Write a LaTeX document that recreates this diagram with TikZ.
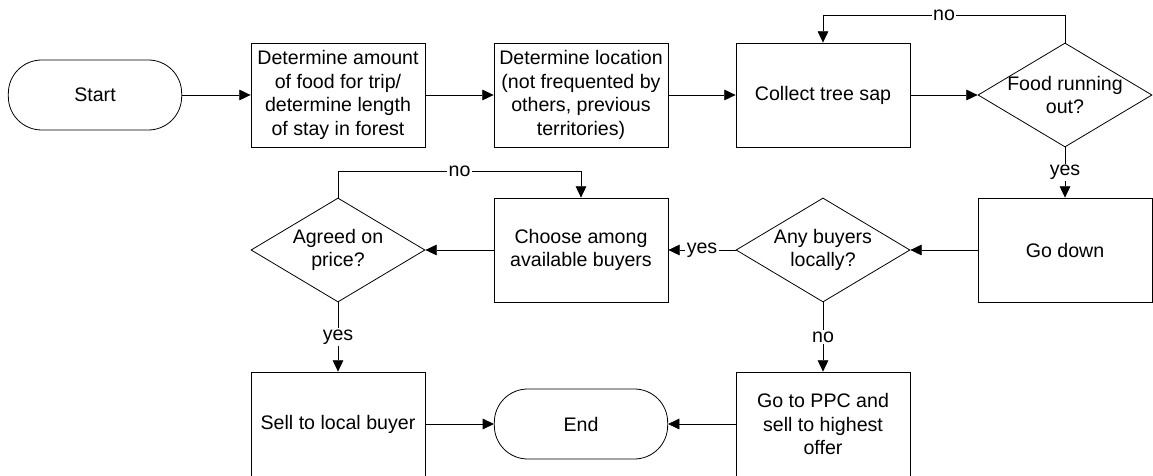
\documentclass[tikz,border=0pt]{standalone}
\usepackage{fontspec}
\setmainfont{Liberation Sans}
\usetikzlibrary{arrows.meta,shapes.geometric}

\begin{document}
\begin{tikzpicture}[x=0.75pt, y=0.75pt,
		every node/.style={font=\fontsize{14.7}{17.7}\selectfont},
		proc/.style={draw, line width=0.6pt, align=center, minimum width=130.5pt, minimum height=78pt, inner sep=2pt},
		term/.style={draw, line width=0.6pt, rounded corners=25pt, minimum width=130pt, minimum height=52.5pt},
		decision/.style={draw, line width=0.6pt, diamond, minimum width=130.5pt, minimum height=78pt, inner sep=0pt},
		flow/.style={line width=0.6pt, -{Triangle[length=8.5pt,width=8pt]}},
		answer/.style={fill=white, inner sep=1pt}]
		%%%%% START %%%%%
		
		\useasboundingbox (0, 0) rectangle (1153, 475);
		
		% top row
		\node[term] (start) at (95, 380) {Start};
		\node[proc] (amount) at (338, 380) {Determine amount\\of food for trip/\\determine length\\of stay in forest};
		\node[proc] (location) at (581, 380) {Determine location\\(not frequented by\\others, previous\\territories)};
		\node[proc] (sap) at (823, 380) {Collect tree sap};
		\node[decision, label={[align=center]center:{Food running\\out?}}] (food) at (1065, 380) {};
		
		% middle row
		\node[proc] (down) at (1065, 225) {Go down};
		\node[decision, label={[align=center]center:{Any buyers\\locally?}}] (buyers) at (823, 225) {};
		\node[proc] (choose) at (581, 225) {Choose among\\available buyers};
		\node[decision, label={[align=center]center:{Agreed on\\price?}}] (price) at (338, 225) {};
		
		% bottom row
		\node[proc] (sell) at (338, 51) {Sell to local buyer};
		\node[term] (end) at (581, 51) {End};
		\node[proc] (ppc) at (823, 51) {Go to PPC and\\sell to highest\\offer};
		
		\draw[flow] (start) -- (amount);
		\draw[flow] (amount) -- (location);
		\draw[flow] (location) -- (sap);
		\draw[flow] (sap) -- (food);
		\draw[flow] (food.north) -- ++(0, 27) -| node[answer, pos=0.25] {no} (sap.north);
		\draw[flow] (food) -- node[answer] {yes} (down);
		
		\draw[flow] (down) -- (buyers);
		\draw[flow] (buyers) -- node[answer] {yes} (choose);
		\draw[flow] (choose) -- (price);
		\draw[flow] (price.north) -- ++(0, 26) -| node[answer, pos=0.25] {no} (choose.north);
		
		\draw[flow] (price) -- node[answer] {yes} (sell);
		\draw[flow] (buyers) -- node[answer] {no} (ppc);
		\draw[flow] (sell) -- (end);
		\draw[flow] (ppc) -- (end);
		
		%%%%% END %%%%%
	\end{tikzpicture}
\end{document}
